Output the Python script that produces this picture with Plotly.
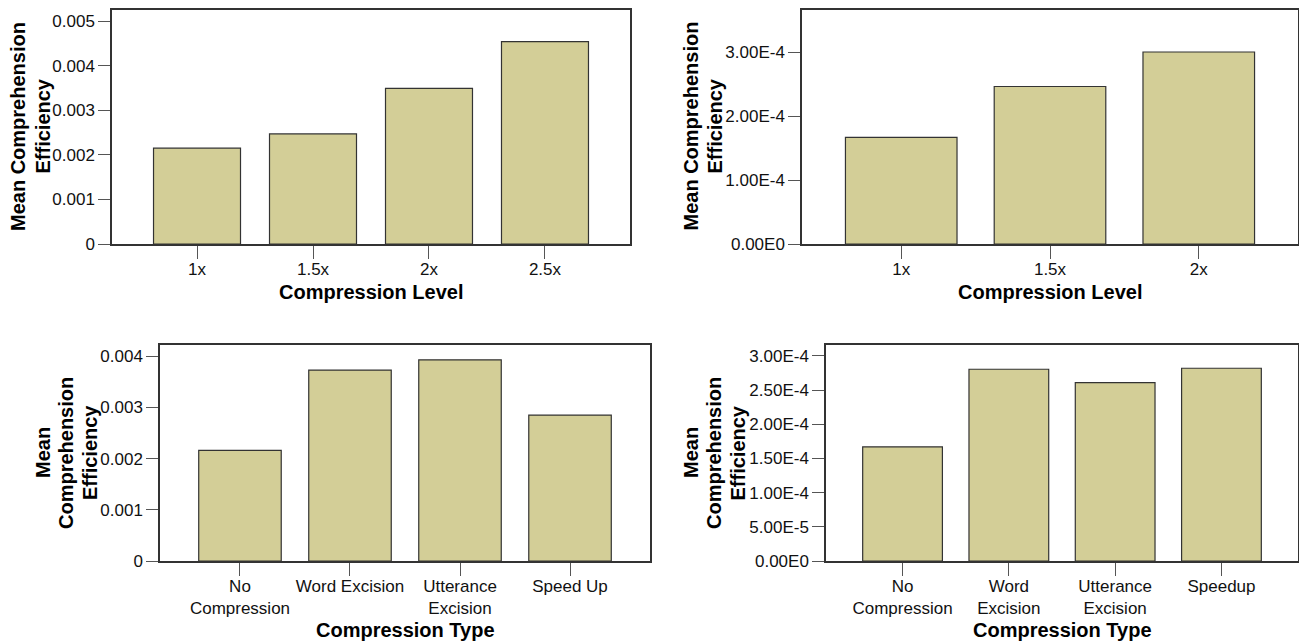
import plotly.graph_objects as go

# ---------------- data ----------------
levels_a = ["1x", "1.5x", "2x", "2.5x"]
eff_a = [0.00215, 0.00247, 0.00349, 0.00454]
yt_a_vals = [0, 0.001, 0.002, 0.003, 0.004, 0.005]
yt_a_text = ["0", "0.001", "0.002", "0.003", "0.004", "0.005"]

levels_b = ["1x", "1.5x", "2x"]
eff_b = [1.67e-4, 2.465e-4, 3.005e-4]
yt_b_vals = [0, 1e-4, 2e-4, 3e-4]
yt_b_text = ["0.00E0", "1.00E-4", "2.00E-4", "3.00E-4"]

types_c = ["No<br>Compression", "Word Excision", "Utterance<br>Excision", "Speed Up"]
eff_c = [0.00216, 0.00373, 0.00393, 0.00285]
yt_c_vals = [0, 0.001, 0.002, 0.003, 0.004]
yt_c_text = ["0", "0.001", "0.002", "0.003", "0.004"]

types_d = ["No<br>Compression", "Word<br>Excision", "Utterance<br>Excision", "Speedup"]
eff_d = [1.67e-4, 2.805e-4, 2.61e-4, 2.82e-4]
yt_d_vals = [0, 5e-5, 1e-4, 1.5e-4, 2e-4, 2.5e-4, 3e-4]
yt_d_text = ["0.00E0", "5.00E-5", "1.00E-4", "1.50E-4", "2.00E-4", "2.50E-4", "3.00E-4"]

x_title_top = "Compression Level"
x_title_bottom = "Compression Type"
y_title_two = ["Mean Comprehension", "Efficiency"]
y_title_three = ["Mean", "Comprehension", "Efficiency"]

# ---------------- layout constants ----------------
W, H = 1299, 644
FONT = "Liberation Sans, Arial, sans-serif"
BAR_FILL = "rgb(211,206,151)"
BAR_LINE = "#333333"
AX_COLOR = "#333333"


def px(x):
    return x / W


def py(y):
    return 1 - y / H


panels = [
    dict(cats=levels_a, vals=eff_a, yv=yt_a_vals, yt=yt_a_text,
         xd=(112, 630), yd=(9.5, 244), xr=[-0.733, 3.733], yr=[0, 0.00526]),
    dict(cats=levels_b, vals=eff_b, yv=yt_b_vals, yt=yt_b_text,
         xd=(802, 1298), yd=(9.5, 244), xr=[-0.667, 2.667], yr=[0, 3.67e-4]),
    dict(cats=types_c, vals=eff_c, yv=yt_c_vals, yt=yt_c_text,
         xd=(160, 650), yd=(345, 561), xr=[-0.727, 3.727], yr=[0, 0.00422]),
    dict(cats=types_d, vals=eff_d, yv=yt_d_vals, yt=yt_d_text,
         xd=(826, 1298), yd=(345, 561), xr=[-0.72, 3.72], yr=[0, 3.16e-4]),
]

fig = go.Figure()
layout = dict(
    width=W, height=H,
    margin=dict(l=0, r=0, t=0, b=0),
    paper_bgcolor="white", plot_bgcolor="white",
    showlegend=False,
    font=dict(family=FONT, size=17, color="#111111"),
)

for i, p in enumerate(panels, start=1):
    sfx = "" if i == 1 else str(i)
    fig.add_trace(go.Bar(
        x=p["cats"], y=p["vals"],
        xaxis="x" + sfx, yaxis="y" + sfx,
        width=0.75,
        marker=dict(color=BAR_FILL, line=dict(color=BAR_LINE, width=1.2)),
        hoverinfo="x+y",
    ))
    layout["xaxis" + sfx] = dict(
        domain=[px(p["xd"][0]), px(p["xd"][1])],
        anchor="y" + sfx,
        type="category",
        range=p["xr"],
        showline=True, linecolor=AX_COLOR, linewidth=1.5, mirror=True,
        ticks="outside", ticklen=13, tickcolor="#555555", tickwidth=1.2,
        ticklabelstandoff=-4,
        showgrid=False, zeroline=False, automargin=False,
        tickfont=dict(family=FONT, size=17, color="#111111"),
    )
    layout["yaxis" + sfx] = dict(
        domain=[py(p["yd"][1]), py(p["yd"][0])],
        anchor="x" + sfx,
        range=p["yr"],
        tickmode="array", tickvals=p["yv"], ticktext=p["yt"],
        showline=True, linecolor=AX_COLOR, linewidth=1.5, mirror=True,
        ticks="outside", ticklen=12, tickcolor="#555555", tickwidth=1.2,
        showgrid=False, zeroline=False, automargin=False,
        tickfont=dict(family=FONT, size=17, color="#111111"),
    )

annotations = []
TITLE_FONT = dict(family=FONT, size=20, color="#000000")


def add_text(text, x, y, angle=0):
    annotations.append(dict(
        text="<b>%s</b>" % text, x=px(x), y=py(y), xref="paper", yref="paper",
        xanchor="center", yanchor="middle", showarrow=False,
        textangle=angle, font=TITLE_FONT,
    ))


# x-axis titles
add_text(x_title_top, 371, 292)
add_text(x_title_top, 1050, 292)
add_text(x_title_bottom, 405, 630)
add_text(x_title_bottom, 1062, 630)

# y-axis titles (one annotation per line)
for line, xx in zip(y_title_two, [18.5, 43]):
    add_text(line, xx, 126.5, -90)
for line, xx in zip(y_title_two, [691, 715]):
    add_text(line, xx, 126.5, -90)
for line, xx in zip(y_title_three, [43, 66, 90]):
    add_text(line, xx, 453, -90)
for line, xx in zip(y_title_three, [691, 714, 737.5]):
    add_text(line, xx, 453, -90)

layout["annotations"] = annotations
fig.update_layout(**layout)

fig.write_html(
    "out.html",
    config={"displayModeBar": False},
    post_script="document.body.style.margin='0';document.body.style.overflow='hidden';",
)
